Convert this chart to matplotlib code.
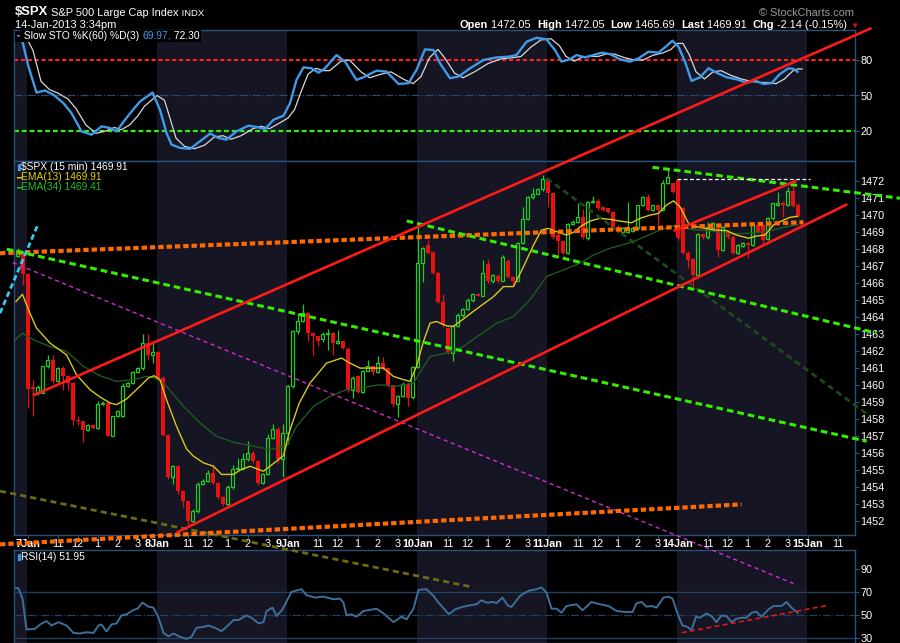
import matplotlib
matplotlib.use("Agg")
import matplotlib.pyplot as plt
import numpy as np

plt.rcParams["font.family"] = ["Liberation Sans", "DejaVu Sans"]

W, H = 900, 643

# ---- 15-min candles, bar index 0 = 7 Jan 9:30 (two bars of 4 Jan before it)
first_bar = -2
opens = [
    1467.55, 1467.75,
    1466.50, 1459.85, 1459.55, 1459.53, 1461.09, 1461.48, 1460.21, 1460.99, 1460.50, 1460.11,
    1457.96, 1457.86, 1457.38, 1457.67, 1457.47, 1458.88, 1458.94, 1457.02, 1458.16, 1458.16,
    1459.92, 1460.11, 1460.74, 1460.99, 1462.46, 1461.77,
    1461.91, 1460.41, 1457.08, 1454.60, 1455.22, 1453.76, 1453.17, 1452.00, 1452.59, 1454.15,
    1454.35, 1454.83, 1454.25, 1453.43, 1452.98, 1454.01, 1455.03, 1455.12, 1455.62, 1456.01,
    1455.52, 1454.25, 1454.74, 1456.89, 1457.41, 1455.62,
    1457.18, 1459.92, 1463.14, 1463.73, 1464.25, 1463.08, 1462.85, 1462.69, 1463.00, 1463.04,
    1462.46, 1462.56, 1462.12, 1459.72, 1460.54, 1459.56, 1460.84, 1461.09, 1460.74, 1461.28,
    1460.99, 1459.97, 1458.88, 1459.33, 1460.07, 1459.27,
    1461.05, 1467.15, 1468.22, 1467.81, 1466.60, 1464.90, 1463.34, 1461.87, 1463.47, 1464.12,
    1464.45, 1465.00, 1465.35, 1465.25, 1467.09, 1466.13, 1466.41, 1466.13, 1467.27, 1466.37,
    1466.13, 1468.32, 1469.73, 1471.02, 1471.22, 1471.49,
    1472.13, 1471.29, 1468.81, 1468.48, 1467.78, 1469.44, 1469.59, 1469.85, 1468.62, 1470.77,
    1470.81, 1470.47, 1470.38, 1470.18, 1469.30, 1469.01, 1469.01, 1469.07, 1469.20, 1470.57,
    1471.02, 1470.28, 1470.55, 1470.28, 1471.84, 1471.85,
    1472.05, 1470.40, 1467.78, 1467.38, 1466.46, 1468.87, 1468.67, 1469.20, 1469.20, 1467.93,
    1469.01, 1468.71, 1467.78, 1468.17, 1468.32, 1468.22, 1469.40, 1469.40, 1468.56, 1469.79,
    1470.57, 1470.71, 1470.57, 1471.41, 1470.60,
]
highs = [
    1468.05, 1467.90,
    1466.60, 1460.30, 1460.00, 1461.10, 1461.77, 1461.77, 1461.05, 1461.09, 1460.60, 1460.20,
    1458.16, 1457.90, 1457.70, 1457.70, 1459.04, 1459.04, 1459.00, 1458.20, 1458.50, 1460.11,
    1460.20, 1460.80, 1461.05, 1463.00, 1463.00, 1462.60,
    1462.00, 1460.50, 1457.10, 1455.32, 1455.30, 1453.80, 1453.20, 1452.70, 1454.30, 1454.50,
    1455.00, 1455.30, 1454.30, 1453.50, 1454.10, 1455.30, 1455.70, 1456.00, 1456.70, 1456.10,
    1455.60, 1454.80, 1457.10, 1457.70, 1457.50, 1457.70,
    1460.00, 1463.20, 1464.22, 1464.76, 1464.30, 1463.10, 1462.90, 1463.10, 1463.28, 1463.10,
    1463.20, 1462.60, 1462.20, 1460.50, 1460.60, 1460.90, 1461.48, 1461.10, 1461.68, 1461.64,
    1461.00, 1460.00, 1459.40, 1460.20, 1460.10, 1461.10,
    1469.50, 1468.10, 1468.52, 1467.90, 1466.70, 1465.35, 1463.40, 1463.50, 1464.20, 1464.50,
    1465.10, 1465.40, 1465.40, 1467.35, 1467.40, 1466.50, 1466.50, 1467.64, 1467.40, 1466.40,
    1468.40, 1470.47, 1471.10, 1471.55, 1471.55, 1472.33,
    1472.20, 1471.30, 1468.90, 1468.50, 1469.50, 1469.70, 1470.71, 1470.32, 1470.80, 1471.10,
    1470.90, 1470.50, 1470.40, 1470.20, 1469.40, 1469.30, 1470.77, 1469.30, 1470.60, 1471.10,
    1471.22, 1470.60, 1470.60, 1472.04, 1472.70, 1471.90,
    1472.05, 1470.45, 1467.85, 1467.45, 1468.95, 1468.95, 1469.59, 1469.60, 1469.30, 1469.35,
    1469.10, 1468.80, 1468.30, 1468.40, 1468.40, 1469.45, 1469.50, 1469.45, 1469.85, 1470.70,
    1471.35, 1470.80, 1471.65, 1471.70, 1470.70,
]
lows = [
    1467.50, 1465.90,
    1458.65, 1458.15, 1459.40, 1459.50, 1461.00, 1460.10, 1460.15, 1459.72, 1459.72, 1457.67,
    1457.67, 1456.63, 1457.30, 1457.40, 1457.40, 1458.80, 1457.00, 1457.00, 1458.10, 1458.10,
    1459.85, 1460.05, 1460.70, 1460.90, 1461.48, 1461.30,
    1460.30, 1457.00, 1454.50, 1454.20, 1453.60, 1452.80, 1451.71, 1451.90, 1452.50, 1454.10,
    1454.30, 1454.20, 1453.30, 1452.90, 1452.90, 1453.90, 1455.00, 1455.00, 1455.50, 1455.40,
    1454.10, 1454.20, 1454.70, 1456.80, 1455.40, 1454.60,
    1456.50, 1459.80, 1463.00, 1463.70, 1462.60, 1461.77, 1462.26, 1462.50, 1462.03, 1461.77,
    1462.40, 1462.10, 1459.60, 1459.23, 1459.50, 1459.50, 1460.80, 1460.60, 1460.70, 1460.90,
    1459.90, 1458.70, 1458.12, 1459.30, 1458.78, 1459.20,
    1461.00, 1466.07, 1467.70, 1466.50, 1464.80, 1463.40, 1461.80, 1461.38, 1463.40, 1464.00,
    1464.40, 1464.90, 1465.20, 1465.20, 1466.00, 1466.00, 1466.00, 1466.10, 1466.30, 1465.82,
    1466.10, 1468.30, 1469.70, 1470.90, 1471.20, 1471.40,
    1470.47, 1468.60, 1467.64, 1467.70, 1467.70, 1469.40, 1469.50, 1468.60, 1468.52, 1470.70,
    1470.30, 1470.20, 1470.10, 1469.20, 1468.90, 1468.90, 1468.90, 1469.00, 1469.10, 1470.50,
    1470.20, 1470.20, 1469.40, 1470.20, 1471.80, 1471.30,
    1468.50, 1467.70, 1466.86, 1465.69, 1466.40, 1468.60, 1468.60, 1469.10, 1467.54, 1467.85,
    1468.60, 1467.70, 1467.70, 1468.10, 1467.44, 1468.15, 1468.90, 1468.32, 1468.50, 1469.70,
    1470.50, 1469.89, 1470.50, 1470.45, 1469.85,
]
closes = [
    1467.95, 1466.50,
    1459.76, 1459.75, 1459.90, 1461.09, 1461.48, 1460.21, 1460.99, 1460.50, 1460.11, 1457.96,
    1457.86, 1457.38, 1457.67, 1457.47, 1458.88, 1458.94, 1457.02, 1458.16, 1458.45, 1459.92,
    1460.11, 1460.74, 1460.99, 1462.46, 1461.77, 1461.91,
    1460.41, 1457.08, 1454.60, 1455.22, 1453.76, 1453.17, 1452.00, 1452.59, 1454.15, 1454.35,
    1454.83, 1454.25, 1453.43, 1452.98, 1454.01, 1455.03, 1455.12, 1455.62, 1456.01, 1455.52,
    1454.25, 1454.74, 1456.89, 1457.41, 1455.62, 1457.18,
    1459.92, 1463.14, 1463.73, 1464.25, 1463.08, 1462.85, 1462.56, 1463.00, 1463.04, 1462.46,
    1462.56, 1462.16, 1459.72, 1460.41, 1459.56, 1460.84, 1461.09, 1460.74, 1461.28, 1460.99,
    1459.97, 1458.88, 1459.33, 1460.07, 1459.23, 1461.05,
    1467.15, 1468.03, 1467.78, 1466.60, 1464.90, 1463.53, 1461.91, 1463.47, 1464.12, 1464.45,
    1465.00, 1465.33, 1465.25, 1466.56, 1466.13, 1466.46, 1466.13, 1467.54, 1466.37, 1466.13,
    1468.32, 1469.73, 1471.02, 1471.22, 1471.49, 1472.13,
    1471.29, 1468.67, 1468.48, 1467.78, 1469.44, 1469.59, 1469.85, 1468.71, 1470.77, 1470.81,
    1470.38, 1470.28, 1470.18, 1469.30, 1469.01, 1469.20, 1469.25, 1469.20, 1470.57, 1471.02,
    1470.28, 1470.55, 1470.28, 1471.84, 1472.23, 1471.35,
    1468.62, 1467.78, 1467.35, 1466.46, 1468.87, 1468.67, 1469.30, 1469.50, 1467.93, 1469.30,
    1468.71, 1467.78, 1468.22, 1468.32, 1468.22, 1469.40, 1469.01, 1468.52, 1469.79, 1470.67,
    1470.67, 1470.57, 1471.41, 1470.51, 1469.91,
]

# ---- EMA overlays
ema13_x = [-2.3, -1.0, 0.2, 1.8, 4.5, 7.8, 9.8, 12.5, 14.5, 16.5,
           17.8, 19.8, 22.5, 24.2, 25.3, 26.5, 27.8, 29.8, 31.8, 33.2,
           35.2, 37.2, 38.8, 41.2, 42.5, 44.5, 47.2, 49.8, 51.2, 52.3,
           54.3, 56.5, 59.8, 62.8, 64.5, 66.5, 69.2, 71.2, 73.2, 75.2,
           76.5, 77.8, 79.2, 80.5, 81.8, 83.8, 85.2, 87.8, 90.5, 93.2,
           95.2, 97.2, 99.2, 101.2, 102.8, 104.2, 105.8, 107.8, 109.5, 110.5,
           112.5, 114.5, 116.5, 118.5, 120.8, 122.5, 124.5, 126.2, 127.8, 129.2,
           130.5, 132.2, 133.8, 135.5, 137.5, 139.8, 141.8, 144.2, 145.8, 147.5,
           149.2, 151.2, 152.5, 154.0]
ema13 = [1464.9, 1465.33, 1464.41, 1463.34, 1462.46, 1461.77, 1460.6, 1459.72, 1459.29, 1458.94,
         1458.84, 1459.17, 1459.92, 1460.41, 1460.54, 1460.31, 1459.13, 1457.57, 1456.24, 1455.81,
         1455.42, 1455.22, 1454.74, 1454.74, 1454.99, 1455.22, 1454.93, 1455.52, 1455.85, 1457.18,
         1458.9, 1460.11, 1461.28, 1461.58, 1461.28, 1460.99, 1460.99, 1460.99, 1460.5, 1460.31,
         1460.21, 1461.09, 1462.56, 1463.63, 1463.73, 1463.47, 1463.44, 1464.02, 1464.61, 1465.19,
         1465.78, 1465.78, 1466.95, 1468.22, 1469.1, 1469.2, 1469.01, 1468.81, 1469.01, 1469.3,
         1469.63, 1469.79, 1469.73, 1469.63, 1469.53, 1469.79, 1469.98, 1470.08, 1470.57, 1470.82,
         1470.47, 1469.5, 1469.3, 1469.2, 1469.1, 1469.07, 1468.81, 1468.62, 1468.75, 1468.81,
         1469.4, 1469.69, 1469.85, 1469.91]
ema34_x = [-2.5, -1.0, 1.2, 4.5, 7.8, 11.2, 14.5, 17.8, 21.2, 23.8,
           25.5, 27.8, 31.2, 34.5, 37.8, 41.2, 45.2, 48.5, 51.8, 53.8,
           57.2, 60.5, 63.8, 67.2, 70.5, 73.8, 77.2, 80.5, 83.8, 87.2,
           90.5, 93.8, 97.2, 100.5, 103.8, 107.2, 110.5, 113.2, 116.5, 121.2,
           126.5, 129.8, 133.2, 136.5, 139.8, 143.8, 147.8, 151.8, 154.0]
ema34 = [1462.65, 1463.04, 1462.65, 1462.26, 1461.97, 1461.09, 1460.54, 1460.21, 1460.31, 1460.5,
         1460.41, 1459.92, 1458.74, 1457.77, 1456.98, 1456.63, 1456.4, 1456.2, 1456.4, 1457.57,
         1458.74, 1459.33, 1459.72, 1459.86, 1460.01, 1459.92, 1460.11, 1461.68, 1461.87, 1462.26,
         1462.95, 1463.63, 1464.02, 1465.0, 1466.37, 1466.76, 1467.15, 1467.64, 1468.03, 1468.42,
         1469.1, 1469.4, 1469.1, 1469.07, 1468.87, 1468.91, 1469.01, 1469.3, 1469.41]

# ---- Slow stochastic
sto_x = [-1.0, 0.2, 1.8, 3.5, 5.2, 7.2, 8.8, 10.8, 12.8, 14.8,
         16.5, 17.8, 19.5, 21.2, 22.5, 25.0, 26.5, 27.8, 28.8, 30.5,
         32.5, 34.5, 36.5, 38.2, 39.8, 41.8, 44.2, 45.8, 47.5, 49.2,
         51.2, 52.5, 53.8, 55.2, 56.8, 58.2, 59.5, 61.8, 63.5, 65.8,
         67.5, 69.8, 71.8, 74.2, 76.2, 77.8, 79.5, 81.2, 82.5, 84.5,
         86.2, 88.5, 91.2, 93.8, 96.2, 97.8, 99.8, 101.8, 103.8, 105.5,
         106.8, 108.5, 109.8, 111.5, 113.2, 114.8, 116.5, 118.5, 120.5, 122.2,
         124.2, 126.2, 127.8, 129.0, 130.2, 131.5, 132.8, 134.5, 136.2, 137.8,
         139.8, 141.8, 143.8, 145.5, 147.2, 148.8, 150.5, 152.2, 153.2, 154.0]
sto_k = [95.4, 74.4, 52.5, 54.2, 50.6, 43.5, 35.1, 19.7, 16.9, 23.9,
         22.5, 19.7, 29.5, 38.5, 44.9, 52.5, 37.9, 18.3, 8.5, 5.7,
         4.9, 11.3, 17.8, 14.1, 12.7, 19.7, 24.5, 23.4, 21.7, 29.5,
         32.9, 43.5, 63.2, 73.8, 73.0, 69.3, 73.0, 84.2, 78.6, 63.2,
         66.0, 71.0, 70.2, 59.8, 60.4, 71.6, 89.0, 88.4, 77.2, 64.6,
         66.0, 73.0, 80.0, 82.2, 82.8, 84.2, 95.4, 98.8, 97.4, 88.4,
         78.6, 80.6, 84.2, 82.2, 84.2, 86.2, 85.0, 80.6, 78.6, 81.4,
         87.0, 86.2, 91.8, 96.3, 91.2, 78.6, 62.3, 65.4, 73.0, 69.3,
         65.4, 63.7, 60.9, 62.6, 59.8, 60.4, 68.2, 73.0, 72.5, 69.97]
sto_d = [98, 88, 62, 55, 52, 47, 39, 25, 18, 20,
         23, 21, 25, 33, 41, 50, 46, 28, 14, 7,
         5, 8, 15, 16, 13, 16, 22, 24, 22, 26,
         31, 38, 53, 68, 73, 71, 71, 79, 80, 70,
         65, 68, 70, 64, 60, 66, 82, 89, 82, 69,
         65, 70, 77, 81, 82, 83, 91, 97, 98, 92,
         83, 79, 82, 83, 83, 85, 85, 82, 80, 80,
         84, 86, 89, 94, 94, 84, 70, 64, 70, 71,
         67, 64, 62, 61, 61, 60, 64, 71, 72.5, 72.3]

# ---- RSI(14)
rsi_x = [-2.5, -1.8, -1.0, -0.2, 1.5, 2.5, 3.8, 4.8, 6.2, 7.8,
         9.2, 10.5, 11.8, 13.2, 14.2, 14.8, 15.8, 16.8, 17.8, 18.8,
         19.8, 21.2, 22.0, 23.0, 24.2, 25.2, 26.2, 27.2, 28.2, 29.2,
         30.5, 31.8, 32.8, 33.8, 35.2, 36.2, 37.5, 38.8, 39.8, 41.2,
         42.2, 43.8, 44.8, 46.2, 47.2, 47.8, 49.0, 49.8, 51.0, 52.8,
         54.8, 55.8, 57.5, 59.2, 61.2, 62.5, 63.2, 63.8, 64.8, 65.8,
         67.2, 68.5, 69.8, 71.2, 73.2, 74.8, 75.8, 77.2, 78.2, 79.8,
         81.2, 82.2, 84.3, 85.5, 87.2, 88.5, 89.8, 90.8, 91.8, 93.2,
         93.8, 95.0, 96.0, 96.8, 98.5, 100.2, 101.8, 102.8, 103.8, 104.8,
         105.8, 106.8, 107.8, 109.8, 111.0, 112.8, 114.5, 116.2, 117.8, 119.8,
         121.0, 121.8, 122.8, 123.8, 124.8, 125.8, 127.2, 128.2, 129.0, 130.2,
         131.0, 132.0, 132.8, 133.7, 134.5, 135.8, 136.8, 137.8, 138.8, 139.8,
         140.8, 141.8, 142.8, 143.8, 144.8, 145.8, 146.8, 148.2, 149.2, 150.8,
         151.8, 152.8, 154.0]
rsi = [73.8, 72.9, 64.2, 37.5, 38.1, 41.9, 44.8, 41.0, 43.9, 41.0,
       34.6, 34.1, 35.2, 34.6, 41.0, 41.9, 35.8, 41.9, 42.8, 49.7,
       50.6, 54.4, 55.5, 60.7, 57.2, 56.4, 47.7, 34.6, 31.7, 34.1,
       31.2, 29.4, 31.2, 39.0, 39.8, 41.0, 39.0, 36.1, 39.8, 45.7,
       45.7, 49.7, 47.7, 42.8, 43.9, 53.5, 56.4, 49.1, 54.9, 70.0,
       72.3, 67.1, 65.1, 65.9, 63.6, 64.2, 60.7, 49.7, 50.6, 48.6,
       53.5, 54.4, 55.5, 51.4, 43.9, 48.6, 46.2, 55.5, 71.7, 72.3,
       66.5, 60.7, 50.6, 54.9, 57.2, 58.4, 59.3, 62.8, 60.7, 61.3,
       60.2, 65.1, 58.4, 57.0, 66.5, 70.9, 72.3, 73.8, 69.4, 55.5,
       55.5, 52.0, 57.8, 59.3, 54.1, 61.3, 59.3, 57.8, 53.5, 52.6,
       52.6, 60.2, 61.3, 57.2, 57.8, 56.4, 65.1, 65.9, 64.2, 49.1,
       41.0, 39.8, 36.9, 48.6, 47.7, 51.4, 49.1, 43.9, 49.7, 49.1,
       43.9, 46.8, 47.7, 47.7, 52.0, 52.9, 48.6, 54.9, 57.8, 57.8,
       61.3, 56.4, 51.95]

# ---- hand-drawn trendlines, (bar, price) endpoints
red_lines = [((1.04, 1459.37), (168.8, 1480.97)),
             ((29.84, 1451.32), (163.96, 1470.62)),
             ((129.2, 1469.05), (153.8, 1472.0))]
orange_lines = [((-5.5, 1467.74), (155.2, 1469.56)),
                ((-5.5, 1450.63), (142.8, 1452.98))]
green_lines = [((-4.16, 1467.98), (167.84, 1456.69)),
               ((75.84, 1469.64), (169.8, 1463.05)),
               ((125.0, 1472.79), (174.5, 1470.97))]
darkgreen_line = ((103.84, 1472.14), (168.5, 1458.16))
magenta_line = ((-2.96, 1467.19), (153.16, 1448.33))
olive_line = ((-5.5, 1453.76), (88.5, 1448.15))
cyan_line = ((-5.5, 1464.22), (1.96, 1469.34))
high_line = ((129.8, 1472.08), (156.5, 1472.08))
rsi_trend = ((130.84, 34.8), (160.16, 58.4))

day_starts = [0, 26, 52, 78, 104, 130, 156]
day_names = ["7Jan", "8Jan", "9Jan", "10Jan", "11Jan", "14Jan", "15Jan"]
hour_offsets = [6, 10, 14, 18, 22]
hour_names = ["11", "12", "1", "2", "3"]
price_ticks = list(range(1452, 1473))

BG = "black"
SHADE = "#151524"
EDGE = "#27507a"
RED = "#e81010"
GREEN = "#22cc22"
X_LO, X_HI = -2.7, 165.5
TICK_FS = 7.8
TEXT_FS = 7.9

fig = plt.figure(figsize=(W / 100, H / 100), dpi=100, facecolor=BG)


def rect(top, bottom, left=14, right=855):
    return [left / W, 1 - bottom / H, (right - left) / W, (bottom - top) / H]


ax_sto = fig.add_axes(rect(30, 161), zorder=1)
ax = fig.add_axes(rect(161, 535), zorder=3)
ax_rsi = fig.add_axes(rect(550, 643), zorder=1)

for a in (ax_sto, ax, ax_rsi):
    a.set_facecolor(BG)
    a.set_xlim(X_LO, X_HI)
    for s in a.spines.values():
        s.set_color(EDGE)
        s.set_linewidth(1.0)
    a.axvspan(X_LO, day_starts[0] - 0.1, color=SHADE, lw=0, zorder=0)
    for d in day_starts[1::2]:
        a.axvspan(d - 0.1, d + 25.9, color=SHADE, lw=0, zorder=0)
    a.yaxis.tick_right()
    a.tick_params(axis="y", colors=EDGE, labelcolor="white", labelsize=TICK_FS,
                  length=3, width=0.8, pad=1.0)

# ---- stochastic panel
ax_sto.set_ylim(-5.36, 105.36)
ax_sto.set_xticks([])
ax_sto.set_yticks([20, 50, 80])
ax_sto.axhline(80, color="#ff2222", lw=1.5, ls=(0, (2, 1.3)), zorder=1)
ax_sto.axhline(20, color="#33ee11", lw=1.6, ls=(0, (2.2, 1.3)), zorder=1)
ax_sto.axhline(50, color="#2b4a6b", lw=0.9, ls="-.", zorder=1)
ax_sto.plot(np.array(sto_x) + 0.9, sto_d, color="#d8d8d8", lw=0.9, zorder=2)
ax_sto.plot(sto_x, sto_k, color="#3d9be9", lw=1.7, zorder=3)

# ---- price panel
ax.set_ylim(1451.18, 1473.16)
ax.set_yticks(price_ticks)

x = np.arange(first_bar, first_bar + len(closes))
o, h, l, c = map(np.array, (opens, highs, lows, closes))
up = c >= o
body_lo = np.minimum(o, c)
body_hi = np.maximum(o, c)
ax.vlines(x[~up], l[~up], h[~up], color=RED, lw=0.9, zorder=2)
ax.bar(x[~up], np.maximum(body_hi - body_lo, 0.05)[~up], bottom=body_lo[~up],
       width=0.8, color=RED, lw=0, zorder=2.1)
ax.vlines(x[up], body_hi[up], h[up], color=GREEN, lw=0.9, zorder=2)
ax.vlines(x[up], l[up], body_lo[up], color=GREEN, lw=0.9, zorder=2)
ax.bar(x[up], np.maximum(body_hi - body_lo, 0.05)[up], bottom=body_lo[up],
       width=0.78, facecolor="none", edgecolor=GREEN, lw=0.9, zorder=2.1)

ax.plot(ema34_x, ema34, color="#1f5a1f", lw=1.0, zorder=2.5)
ax.plot(ema13_x, ema13, color="#d8c81a", lw=1.0, zorder=2.6)


def seg(a, line, **kw):
    (x0, y0), (x1, y1) = line
    a.plot([x0, x1], [y0, y1], clip_on=False, solid_capstyle="butt", **kw)


seg(ax, olive_line, color="#6e6a14", lw=2.0, ls=(0, (2.2, 1.5)), zorder=3)
seg(ax, darkgreen_line, color="#1c4a1c", lw=2.0, ls=(0, (2.2, 1.5)), zorder=3)
seg(ax, magenta_line, color="#d62ad6", lw=1.0, ls=(0, (3, 2.5)), zorder=3.2)
for ln in orange_lines:
    seg(ax, ln, color="#ff6a00", lw=3.0, ls=(0, (1.3, 0.7)), zorder=3.4)
for ln in green_lines:
    seg(ax, ln, color="#33ee00", lw=2.2, ls=(0, (2.2, 1.3)), zorder=3.5)
for ln in red_lines:
    seg(ax, ln, color="#ff1a1a", lw=1.9, zorder=3.6)
seg(ax, cyan_line, color="#33ccee", lw=2.0, ls=(0, (2, 1.2)), zorder=3.6)
seg(ax, high_line, color="white", lw=0.9, ls=(0, (3, 2)), zorder=3.6)

tick_pos, tick_lab = [], []
for d, name in zip(day_starts, day_names):
    tick_pos.append(d)
    tick_lab.append(name)
    for off, hn in zip(hour_offsets, hour_names):
        if d + off < X_HI:
            tick_pos.append(d + off)
            tick_lab.append(hn)
ax.set_xticks(tick_pos, tick_lab)
ax.tick_params(axis="x", colors=EDGE, labelcolor="white", labelsize=TICK_FS,
               length=2, width=0.8, pad=1)
for t in ax.get_xticklabels():
    if "Jan" in t.get_text():
        t.set_fontweight("bold")

# ---- RSI panel
ax_rsi.set_ylim(25.9, 106.1)
ax_rsi.set_xticks([])
ax_rsi.set_yticks([30, 50, 70, 90])
ax_rsi.axhline(70, color="#23415f", lw=1.0)
ax_rsi.axhline(30, color="#23415f", lw=1.0)
ax_rsi.axhline(50, color="#23415f", lw=0.9, ls="-.")
ax_rsi.plot(rsi_x, rsi, color="#3c6f9a", lw=1.4, zorder=2)
seg(ax_rsi, rsi_trend, color="#e01818", lw=1.2, ls=(0, (3, 2)), zorder=3)

# ---- text overlay
ov = fig.add_axes([0, 0, 1, 1], zorder=10)
ov.axis("off")
ov.set_xlim(0, 1)
ov.set_ylim(0, 1)


def chain(xp, yp, parts, bg=None):
    prev = None
    for text, color, size, weight in parts:
        kw = dict(color=color, fontsize=size, fontweight=weight, va="bottom", ha="left")
        if bg:
            kw["bbox"] = dict(fc=bg, ec="none", pad=0.8)
        if prev is None:
            prev = ov.text(xp / W, 1 - yp / H, text, transform=ov.transAxes, **kw)
        else:
            prev = ov.annotate(text, xy=(1, 0), xycoords=prev, **kw)
    return prev


chain(15, 18, [("$SPX", "white", 9.4, "bold"),
               (" S&P 500 Large Cap Index", "white", TEXT_FS, "normal"),
               (" INDX", "white", 6.8, "normal")])
chain(15, 30, [("14-Jan-2013 3:34pm", "white", TEXT_FS, "normal")])
ov.text(854 / W, 1 - 13 / H, "© StockCharts.com", color="#9a9a9a", fontsize=TEXT_FS,
        ha="right", va="center", transform=ov.transAxes)
chain(460, 29.5, [("Open", "white", TEXT_FS, "bold"), (" 1472.05  ", "white", TEXT_FS, "normal"),
                  ("High", "white", TEXT_FS, "bold"), (" 1472.05  ", "white", TEXT_FS, "normal"),
                  ("Low", "white", TEXT_FS, "bold"), (" 1465.69  ", "white", TEXT_FS, "normal"),
                  ("Last", "white", TEXT_FS, "bold"), (" 1469.91  ", "white", TEXT_FS, "normal"),
                  ("Chg", "white", TEXT_FS, "bold"), (" -2.14 (-0.15%) ", "white", TEXT_FS, "normal"),
                  ("▼", "#e81010", 6.0, "normal")])

chain(16, 41, [("━", "#3d9be9", 6.5, "normal"),
               (" Slow STO %K(60) %D(3) ", "white", 7.4, "normal"),
               ("69.97,", "#3d9be9", 7.4, "normal"),
               (" 72.30", "white", 7.4, "normal")], bg=BG)
chain(16, 172, [("▮", "#3d9be9", 6.5, "normal"),
                ("$SPX (15 min) 1469.91", "white", 7.4, "normal")])
chain(16, 182, [("━", "#d8c81a", 6.5, "normal"),
                ("EMA(13) 1469.91", "#e0d000", 7.4, "normal")])
chain(16, 192, [("━", "#22bb22", 6.5, "normal"),
                ("EMA(34) 1469.41", "#22bb22", 7.4, "normal")])
chain(16, 562, [("▮", "#3d9be9", 6.5, "normal"),
                ("RSI(14) 51.95", "white", 7.4, "normal")])

fig.savefig("out.png", dpi=100, facecolor=BG)
